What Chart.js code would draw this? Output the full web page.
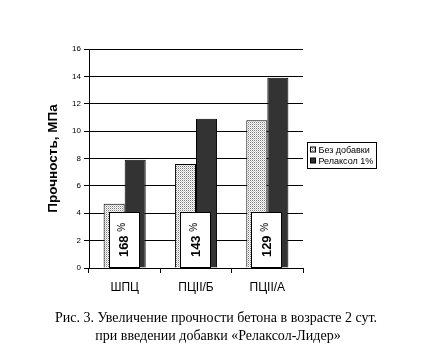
<!DOCTYPE html>
<html><head><meta charset="utf-8">
<script src="https://cdn.jsdelivr.net/npm/chart.js@4/dist/chart.umd.min.js"></script>
<style>html,body{margin:0;padding:0;background:#fff;}canvas{display:block;}</style>
</head><body>
<canvas id="c" width="434" height="358"></canvas>
<script>
const categories = ['ШПЦ', 'ПЦII/Б', 'ПЦII/А'];
const seriesNames = ['Без добавки', 'Релаксол 1%'];
const withoutAdditive = [4.7, 7.6, 10.8];
const relaxol = [7.9, 10.9, 13.9];
const increaseLabels = ['168', '143', '129'];
const yTickValues = [0, 2, 4, 6, 8, 10, 12, 14, 16];
const captionLines = ['Рис. 3. Увеличение прочности бетона в возрасте 2 сут.', 'при введении добавки «Релаксол-Лидер»'];
const yTitle = 'Прочность, МПа';

function dotPattern() {
  const p = document.createElement('canvas');
  p.width = 2; p.height = 2;
  const g = p.getContext('2d');
  g.fillStyle = '#ffffff'; g.fillRect(0, 0, 2, 2);
  g.fillStyle = '#7a7a7a'; g.fillRect(0, 0, 1, 1);
  g.fillStyle = '#c8c8c8'; g.fillRect(1, 1, 1, 1);
  return g.createPattern(p, 'repeat');
}
const lightFill = dotPattern();
const darkFill = '#333333';

const overlay = {
  id: 'overlay',
  afterDatasetsDraw(chart) {
    const ctx = chart.ctx, xs = chart.scales.x, ys = chart.scales.y;
    ctx.save();
    categories.forEach((c, i) => {
      const cx = xs.getPixelForValue(i) - 1;
      const top = Math.round(ys.getPixelForValue(4.12)) + 0.5;
      const bot = Math.round(ys.getPixelForValue(0.08)) + 0.5;
      const l = Math.round(cx - 15) + 0.5, w = 30;
      ctx.fillStyle = '#fff';
      ctx.fillRect(l, top, w, bot - top);
      ctx.strokeStyle = '#000'; ctx.lineWidth = 1;
      ctx.strokeRect(l, top, w, bot - top);
      ctx.save();
      ctx.translate(cx + 1, (top + bot) / 2);
      ctx.rotate(-Math.PI / 2);
      ctx.fillStyle = '#000';
      ctx.textBaseline = 'middle';
      const t = increaseLabels[i];
      ctx.font = 'bold 13px "Liberation Sans", Arial';
      const w1 = ctx.measureText(t + ' ').width;
      ctx.font = '10px "Liberation Sans", Arial';
      const w2 = ctx.measureText('%').width;
      const start = -(w1 + w2) / 2;
      ctx.textAlign = 'left';
      ctx.font = 'bold 13px "Liberation Sans", Arial';
      ctx.fillText(t, start, 0);
      ctx.font = '10px "Liberation Sans", Arial';
      ctx.fillText('%', start + w1, -2);
      ctx.restore();
    });
    const lx = 307.5, ly = 142.5, lw = 69, lh = 26;
    ctx.fillStyle = '#fff';
    ctx.fillRect(lx, ly, lw, lh);
    ctx.strokeStyle = '#000'; ctx.lineWidth = 1;
    ctx.strokeRect(lx, ly, lw, lh);
    const fills = [lightFill, darkFill];
    ctx.font = '9px "Liberation Sans", Arial';
    ctx.textAlign = 'left'; ctx.textBaseline = 'middle';
    seriesNames.forEach((n, i) => {
      const yy = ly + 7.5 + i * 11;
      ctx.fillStyle = fills[i];
      ctx.fillRect(lx + 3, yy - 3, 5, 5);
      ctx.strokeStyle = '#000';
      ctx.strokeRect(lx + 3, yy - 3, 5, 5);
      ctx.fillStyle = '#000';
      ctx.fillText(n, lx + 11, yy + 0.5);
    });
    ctx.font = '14px "Liberation Serif", "Times New Roman", serif';
    ctx.textAlign = 'center'; ctx.textBaseline = 'middle';
    ctx.fillText(captionLines[0], 216, 318);
    ctx.fillText(captionLines[1], 218, 336);
    ctx.restore();
  }
};

new Chart(document.getElementById('c'), {
  type: 'bar',
  data: {
    labels: categories,
    datasets: [
      { label: seriesNames[0], data: withoutAdditive, backgroundColor: lightFill, borderColor: '#000', borderWidth: 1 },
      { label: seriesNames[1], data: relaxol, backgroundColor: darkFill, borderColor: '#000', borderWidth: 1 }
    ]
  },
  options: {
    responsive: false,
    animation: false,
    layout: { padding: { left: 0, top: 49, right: 131, bottom: 60 } },
    datasets: { bar: { categoryPercentage: 0.59, barPercentage: 1.0 } },
    plugins: { legend: { display: false }, tooltip: { enabled: false } },
    scales: {
      x: {
        afterFit(s) { s.height = 30; },
        grid: { offset: true, drawOnChartArea: false, color: '#000', tickLength: 5, lineWidth: 1 },
        border: { color: '#000', width: 1 },
        ticks: { color: '#000', font: { family: '"Liberation Sans", Arial', size: 12 }, padding: 7 }
      },
      y: {
        min: 0, max: 16,
        afterFit(s) { s.width = 89; },
        afterBuildTicks(s) { s.ticks = yTickValues.map(v => ({ value: v })); },
        grid: { color: '#000', tickLength: 5, lineWidth: 1 },
        border: { color: '#000', width: 1 },
        ticks: { color: '#000', font: { family: '"Liberation Sans", Arial', size: 8 }, padding: 3 },
        title: { display: true, text: yTitle, color: '#000', font: { family: '"Liberation Sans", Arial', size: 13.5, weight: 'bold' }, padding: { top: 45, bottom: 0 } }
      }
    }
  },
  plugins: [overlay]
});
</script>
</body></html>
